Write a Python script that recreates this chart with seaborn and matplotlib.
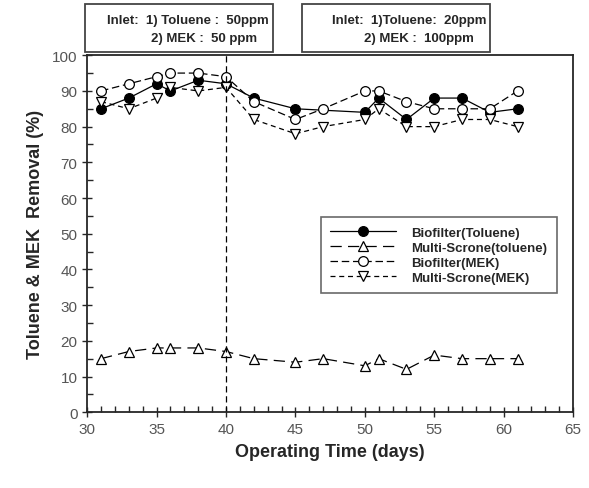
import numpy as np
import pandas as pd
import seaborn as sns
import matplotlib.pyplot as plt
from matplotlib.patches import Rectangle
from matplotlib.ticker import MultipleLocator

# datos
dias_bio_tol = [31, 33, 35, 36, 38, 40, 42, 45, 50, 51, 53, 55, 57, 59, 61]
bio_tol = [85, 88, 92, 90, 93, 92, 88, 85, 84, 88, 82, 88, 88, 84, 85]

dias = [31, 33, 35, 36, 38, 40, 42, 45, 47, 50, 51, 53, 55, 57, 59, 61]
multi_tol = [15, 17, 18, 18, 18, 17, 15, 14, 15, 13, 15, 12, 16, 15, 15, 15]
bio_mek = [90, 92, 94, 95, 95, 94, 87, 82, 85, 90, 90, 87, 85, 85, 85, 90]
multi_mek = [87, 85, 88, 91, 90, 91, 82, 78, 80, 82, 85, 80, 80, 82, 82, 80]

cambio_dia = 40

sns.set_style('ticks')
plt.rcParams['font.family'] = ['Liberation Sans', 'DejaVu Sans']

fig = plt.figure(figsize=(5.89, 4.89), dpi=100)
ax = fig.add_axes([0.148, 0.155, 0.825, 0.730])

series = [
    (dias_bio_tol, bio_tol, 'Biofilter(Toluene)', 'o', 'black', '-'),
    (dias, multi_tol, 'Multi-Scrone(toluene)', '^', 'white', (0, (9, 5))),
    (dias, bio_mek, 'Biofilter(MEK)', 'o', 'white', (0, (6, 3))),
    (dias, multi_mek, 'Multi-Scrone(MEK)', 'v', 'white', (0, (4, 3))),
]
for x, y, nombre, mk, fc, ls in series:
    df = pd.DataFrame({'dia': x, 'valor': y})
    sns.lineplot(data=df, x='dia', y='valor', ax=ax, label=nombre, color='black',
                 linestyle=ls, linewidth=0.9, marker=mk, markersize=7,
                 markerfacecolor=fc, markeredgecolor='black', markeredgewidth=0.9)

ax.axvline(cambio_dia, color='black', linestyle=(0, (5, 3)), linewidth=0.9)

ax.set_xlim(30, 65)
ax.set_ylim(0, 100)
ax.xaxis.set_major_locator(MultipleLocator(5))
ax.xaxis.set_minor_locator(MultipleLocator(1))
ax.yaxis.set_major_locator(MultipleLocator(10))
ax.yaxis.set_minor_locator(MultipleLocator(5))
ax.tick_params(which='major', direction='inout', length=7, width=1, labelsize=11,
               labelcolor='#555555')
ax.tick_params(which='minor', direction='in', length=4, width=1)
for s in ax.spines.values():
    s.set_visible(True)
    s.set_linewidth(1.3)

ax.set_xlabel('Operating Time (days)', fontsize=13, fontweight='bold', labelpad=5)
ax.set_ylabel('Toluene & MEK  Removal (%)', fontsize=13, fontweight='bold', labelpad=6)

leg = ax.legend(loc='center right', bbox_to_anchor=(0.98, 0.44), fontsize=9.5,
                handlelength=5, frameon=True, fancybox=False, edgecolor='#444444',
                borderpad=0.7, labelspacing=0.2, handletextpad=1.2)
for t in leg.get_texts():
    t.set_fontweight('bold')
leg.get_frame().set_linewidth(1.2)

# cuadros de condiciones de entrada
W, H = 589, 489
cajas = [
    (85, 273, 'Inlet:  1) Toluene :  50ppm', '2) MEK :  50 ppm'),
    (302, 490, 'Inlet:  1)Toluene:  20ppm', '2) MEK :  100ppm'),
]
for x0, x1, l1, l2 in cajas:
    fig.patches.append(Rectangle((x0 / W, 1 - 53 / H), (x1 - x0) / W, 48 / H,
                                 transform=fig.transFigure, fill=False,
                                 edgecolor='#444444', linewidth=1.3))
    fig.text((x1 - 4) / W, 1 - 21 / H, l1, ha='right', va='center', fontsize=9.5,
             fontweight='bold')
    fig.text((x1 - 16) / W, 1 - 39 / H, l2, ha='right', va='center', fontsize=9.5,
             fontweight='bold')

fig.savefig('out.png', dpi=100)
